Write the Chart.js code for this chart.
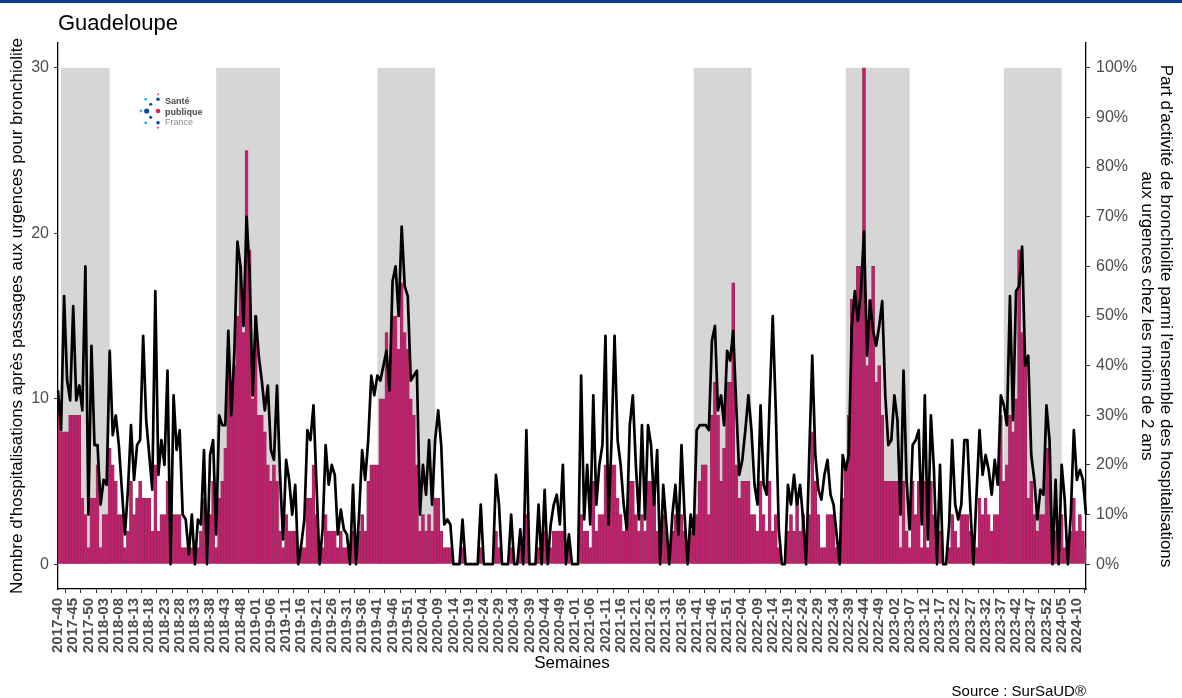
<!DOCTYPE html>
<html>
<head>
<meta charset="utf-8">
<script src="https://cdn.jsdelivr.net/npm/chart.js@4.4.1/dist/chart.umd.min.js"></script>
<style>
  html, body { margin: 0; padding: 0; background: #fff; }
  #wrap { position: relative; width: 1182px; height: 698px; overflow: hidden; }
  #topbar { position: absolute; left: 0; top: 0; width: 1182px; height: 3px; background: #0c3e8e; }
  canvas { position: absolute; left: 0; top: 0; }
</style>
</head>
<body>
<div id="wrap">
  <canvas id="c" width="1182" height="698"></canvas>
  <div id="topbar"></div>
</div>
<script>
// ISO weeks shown on the x axis
const weeks = [
  "2017-40","2017-41","2017-42","2017-43","2017-44","2017-45","2017-46","2017-47","2017-48","2017-49","2017-50","2017-51","2017-52",
  "2018-01","2018-02","2018-03","2018-04","2018-05","2018-06","2018-07","2018-08","2018-09","2018-10","2018-11","2018-12","2018-13",
  "2018-14","2018-15","2018-16","2018-17","2018-18","2018-19","2018-20","2018-21","2018-22","2018-23","2018-24","2018-25","2018-26",
  "2018-27","2018-28","2018-29","2018-30","2018-31","2018-32","2018-33","2018-34","2018-35","2018-36","2018-37","2018-38","2018-39",
  "2018-40","2018-41","2018-42","2018-43","2018-44","2018-45","2018-46","2018-47","2018-48","2018-49","2018-50","2018-51","2018-52",
  "2019-01","2019-02","2019-03","2019-04","2019-05","2019-06","2019-07","2019-08","2019-09","2019-10","2019-11","2019-12","2019-13",
  "2019-14","2019-15","2019-16","2019-17","2019-18","2019-19","2019-20","2019-21","2019-22","2019-23","2019-24","2019-25","2019-26",
  "2019-27","2019-28","2019-29","2019-30","2019-31","2019-32","2019-33","2019-34","2019-35","2019-36","2019-37","2019-38","2019-39",
  "2019-40","2019-41","2019-42","2019-43","2019-44","2019-45","2019-46","2019-47","2019-48","2019-49","2019-50","2019-51","2019-52",
  "2020-01","2020-02","2020-03","2020-04","2020-05","2020-06","2020-07","2020-08","2020-09","2020-10","2020-11","2020-12","2020-13",
  "2020-14","2020-15","2020-16","2020-17","2020-18","2020-19","2020-20","2020-21","2020-22","2020-23","2020-24","2020-25","2020-26",
  "2020-27","2020-28","2020-29","2020-30","2020-31","2020-32","2020-33","2020-34","2020-35","2020-36","2020-37","2020-38","2020-39",
  "2020-40","2020-41","2020-42","2020-43","2020-44","2020-45","2020-46","2020-47","2020-48","2020-49","2020-50","2020-51","2020-52","2020-53",
  "2021-01","2021-02","2021-03","2021-04","2021-05","2021-06","2021-07","2021-08","2021-09","2021-10","2021-11","2021-12","2021-13",
  "2021-14","2021-15","2021-16","2021-17","2021-18","2021-19","2021-20","2021-21","2021-22","2021-23","2021-24","2021-25","2021-26",
  "2021-27","2021-28","2021-29","2021-30","2021-31","2021-32","2021-33","2021-34","2021-35","2021-36","2021-37","2021-38","2021-39",
  "2021-40","2021-41","2021-42","2021-43","2021-44","2021-45","2021-46","2021-47","2021-48","2021-49","2021-50","2021-51","2021-52",
  "2022-01","2022-02","2022-03","2022-04","2022-05","2022-06","2022-07","2022-08","2022-09","2022-10","2022-11","2022-12","2022-13",
  "2022-14","2022-15","2022-16","2022-17","2022-18","2022-19","2022-20","2022-21","2022-22","2022-23","2022-24","2022-25","2022-26",
  "2022-27","2022-28","2022-29","2022-30","2022-31","2022-32","2022-33","2022-34","2022-35","2022-36","2022-37","2022-38","2022-39",
  "2022-40","2022-41","2022-42","2022-43","2022-44","2022-45","2022-46","2022-47","2022-48","2022-49","2022-50","2022-51","2022-52",
  "2023-01","2023-02","2023-03","2023-04","2023-05","2023-06","2023-07","2023-08","2023-09","2023-10","2023-11","2023-12","2023-13",
  "2023-14","2023-15","2023-16","2023-17","2023-18","2023-19","2023-20","2023-21","2023-22","2023-23","2023-24","2023-25","2023-26",
  "2023-27","2023-28","2023-29","2023-30","2023-31","2023-32","2023-33","2023-34","2023-35","2023-36","2023-37","2023-38","2023-39",
  "2023-40","2023-41","2023-42","2023-43","2023-44","2023-45","2023-46","2023-47","2023-48","2023-49","2023-50","2023-51","2023-52",
  "2024-01","2024-02","2024-03","2024-04","2024-05","2024-06","2024-07","2024-08","2024-09","2024-10","2024-11","2024-12","2024-13"
];

// Weekly hospitalisations after an emergency visit for bronchiolitis (left axis)
const hospitalisations = [
  10,8,8,8,9,9,9,9,4,3,   1,4,4,6,1,3,3,7,6,5,   3,3,1,2,5,3,4,5,4,4,   4,2,6,2,3,3,5,0,3,3,
  3,1,1,1,1,0,1,2,4,0,   3,5,1,4,5,7,13,9,12,15, 18,14,25,19,10,15,9,9,8,6, 5,6,5,2,1,3,2,2,2,0,
  1,1,4,4,6,3,0,1,3,2,   2,2,1,2,1,1,0,2,0,2,   3,2,5,6,6,6,10,10,14,12, 15,15,13,17,14,13,10,9,6,2,
  3,2,3,2,4,4,2,1,1,1,   0,0,0,1,0,0,0,0,0,1,   0,0,0,0,2,1,0,0,0,1,   0,0,1,0,3,0,0,0,1,0,
  2,0,1,2,2,2,2,0,1,0,   0,0,3,2,2,1,5,2,3,3,   6,6,6,6,4,3,2,3,5,5,   3,2,3,2,5,5,4,2,0,3,
  2,0,2,3,2,3,2,0,2,2,   3,5,6,6,3,9,11,9,5,7,  11,11,17,6,4,5,5,5,3,3, 2,5,3,2,5,2,3,1,0,0,
  2,3,2,4,2,3,0,3,8,5,   3,1,1,3,3,3,1,0,4,6,   9,16,16,18,18,30,12,16,18,11, 12,9,5,5,5,5,5,1,5,2,
  1,5,3,5,1,5,1,5,3,0,   2,0,0,1,3,2,1,3,3,3,   2,0,1,4,3,4,3,2,3,3,   9,5,6,9,8,10,19,14,12,4,
  5,3,2,3,3,7,7,0,2,0,   3,1,0,2,4,2,3,2,1
];

// Share of bronchiolitis among emergency hospitalisations of children under 2, in % (right axis)
const partActivite = [
  35,27,54,37,33,52,33,36,31,60,  10,44,24,24,12,17,16,43,26,30,  24,15,6,15,28,17,24,25,46,29,  22,15,55,18,25,20,39,0,34,23,
  27,10,9,2,10,0,9,8,23,0,        22,25,6,30,28,28,47,30,43,65,   60,48,70,59,34,50,42,37,31,36,  23,21,36,18,5,21,17,10,16,0,
  4,9,27,25,32,16,0,7,24,16,      20,18,6,11,7,6,0,16,0,10,       23,17,25,38,34,38,37,40,43,35,  57,60,50,68,56,54,37,38,39,10,
  20,14,25,12,25,31,24,8,9,8,     0,0,0,9,0,0,0,0,0,12,           0,0,0,0,18,12,0,0,0,10,         0,0,7,0,27,0,0,0,12,0,
  15,0,8,12,14,8,20,0,6,0,        0,0,38,9,20,8,34,12,20,24,      46,8,25,46,25,20,12,7,28,34,    20,9,28,9,28,24,12,23,0,16,
  8,0,10,16,6,24,10,0,10,6,       27,28,28,28,27,45,48,31,34,28,  43,41,47,32,18,21,27,34,27,16,  12,32,16,14,33,50,31,7,0,0,
  16,12,18,12,16,9,0,22,42,22,    15,13,18,21,14,12,6,0,22,19,    22,48,55,49,55,67,42,53,47,44,  48,53,34,24,25,34,29,10,39,17,
  7,24,25,27,8,34,5,30,19,0,      20,0,0,8,25,12,9,12,25,25,      11,0,14,27,18,22,19,14,21,16,   34,32,28,54,29,55,56,64,40,42,
  22,17,9,15,14,32,25,0,17,0,     20,13,0,10,27,17,19,17,10
];

// Epidemic periods (grey bands)
const epidemicStart = ["2017-41", "2018-40", "2019-41", "2021-40", "2022-38", "2023-38"];
const epidemicEnd   = ["2018-05", "2019-09", "2020-08", "2022-07", "2023-07", "2024-05"];

// Axis tick values
const leftTicks  = [0, 10, 20, 30];
const rightTicks = [0, 10, 20, 30, 40, 50, 60, 70, 80, 90, 100];

const TICK_GREY = '#4d4d4d';
const FONT = "'Liberation Sans', Arial, sans-serif";

const bandsPlugin = {
  id: 'bands',
  beforeDatasetsDraw(chart) {
    const { ctx, scales: { x, y } } = chart;
    const top = y.getPixelForValue(30), bottom = y.getPixelForValue(0);
    ctx.save();
    ctx.fillStyle = '#d6d6d6';
    epidemicStart.forEach((s, k) => {
      const x0 = x.getPixelForValue(weeks.indexOf(s));
      const x1 = x.getPixelForValue(weeks.indexOf(epidemicEnd[k]));
      ctx.fillRect(x0, top, x1 - x0, bottom - top);
    });
    ctx.restore();
  }
};

const decorPlugin = {
  id: 'decor',
  afterDraw(chart) {
    const ctx = chart.ctx;
    ctx.save();
    // title
    ctx.fillStyle = '#000';
    ctx.font = '22px ' + FONT;
    ctx.textAlign = 'left';
    ctx.textBaseline = 'alphabetic';
    ctx.fillText('Guadeloupe', 58, 30);
    // source
    ctx.font = '15px ' + FONT;
    ctx.textAlign = 'right';
    ctx.fillText('Source : SurSaUD\u00AE', 1086, 696);

    // Santé publique France logo
    const dots = [
      [141.0, 111.0, 1.4, '#35b6e8'],
      [146.7, 111.0, 2.6, '#0a4a9e'],
      [145.7, 99.3, 1.5, '#35b6e8'],
      [145.7, 122.7, 1.5, '#35b6e8'],
      [150.7, 104.3, 1.5, '#0a4a9e'],
      [150.7, 117.3, 1.5, '#0a4a9e'],
      [158.0, 99.3, 1.8, '#0a4a9e'],
      [158.0, 122.7, 1.8, '#0a4a9e'],
      [158.0, 111.0, 2.2, '#e5195e'],
      [158.0, 94.3, 0.9, '#e5195e'],
      [158.0, 127.7, 0.9, '#e5195e']
    ];
    dots.forEach(([cx, cy, r, col]) => {
      ctx.beginPath();
      ctx.arc(cx, cy, r, 0, Math.PI * 2);
      ctx.fillStyle = col;
      ctx.fill();
    });
    ctx.textAlign = 'left';
    ctx.fillStyle = '#4a4a4a';
    ctx.font = 'bold 9px ' + FONT;
    ctx.fillText('Sant\u00E9', 165, 104);
    ctx.fillText('publique', 165, 115);
    ctx.fillStyle = '#8a8a8a';
    ctx.font = '9px ' + FONT;
    ctx.fillText('France', 165, 125);
    ctx.restore();
  }
};

new Chart(document.getElementById('c'), {
  data: {
    labels: weeks,
    datasets: [
      {
        type: 'line',
        label: "Part d'activité",
        data: partActivite,
        yAxisID: 'y2',
        borderColor: '#000000',
        borderWidth: 2.7,
        borderJoinStyle: 'round',
        pointRadius: 0,
        tension: 0,
        order: 0
      },
      {
        type: 'bar',
        label: 'Hospitalisations',
        data: hospitalisations,
        yAxisID: 'y',
        backgroundColor: '#c41f6c',
        borderColor: '#7a3558',
        borderWidth: 0.6,
        barPercentage: 1,
        categoryPercentage: 1,
        order: 1
      }
    ]
  },
  options: {
    responsive: false,
    animation: false,
    layout: { padding: { top: 43, bottom: 0, left: 0, right: 0 } },
    plugins: { legend: { display: false }, tooltip: { enabled: false } },
    scales: {
      x: {
        type: 'category',
        offset: false,
        afterBuildTicks(scale) {
          scale.ticks = scale.ticks.filter(t => t.value % 5 === 0);
        },
        afterFit(scale) { scale.height = 109; },
        grid: { drawOnChartArea: false, drawTicks: true, tickLength: 4, color: '#333', lineWidth: 1 },
        border: { display: true, color: '#000', width: 1.3 },
        ticks: {
          autoSkip: false, maxRotation: 90, minRotation: 90, padding: 5,
          color: TICK_GREY, font: { family: FONT, size: 15, weight: 'bold' }
        },
        title: {
          display: true, text: 'Semaines', color: '#000',
          font: { family: FONT, size: 17 }, padding: { top: 0, bottom: 24 }
        }
      },
      y: {
        position: 'left',
        min: -1.5, max: 31.5,
        afterBuildTicks(scale) { scale.ticks = leftTicks.map(v => ({ value: v })); },
        afterFit(scale) { scale.width = 58; },
        grid: { drawOnChartArea: false, drawTicks: true, tickLength: 4, color: '#333', lineWidth: 1 },
        border: { display: true, color: '#000', width: 1.3 },
        ticks: { padding: 5, color: TICK_GREY, font: { family: FONT, size: 16 } },
        title: {
          display: true,
          text: "Nombre d'hospitalisations après passages aux urgences pour bronchiolite",
          color: '#000', font: { family: FONT, size: 17 }, padding: { top: 7, bottom: 0 }
        }
      },
      y2: {
        position: 'right',
        min: -5, max: 105,
        afterBuildTicks(scale) { scale.ticks = rightTicks.map(v => ({ value: v })); },
        afterFit(scale) { scale.width = 96; },
        grid: { drawOnChartArea: false, drawTicks: true, tickLength: 4, color: '#333', lineWidth: 1 },
        border: { display: true, color: '#000', width: 1.3 },
        ticks: {
          padding: 6, color: TICK_GREY, font: { family: FONT, size: 16 },
          callback: v => v + '%'
        },
        title: {
          display: true,
          text: ["Part d'activité de bronchiolite parmi l'ensemble des hospitalisations",
                 "aux urgences chez les moins de 2 ans"],
          color: '#000', font: { family: FONT, size: 17, lineHeight: 1.1 }, padding: { top: 7, bottom: 0 }
        }
      }
    }
  },
  plugins: [bandsPlugin, decorPlugin]
});
</script>
</body>
</html>
